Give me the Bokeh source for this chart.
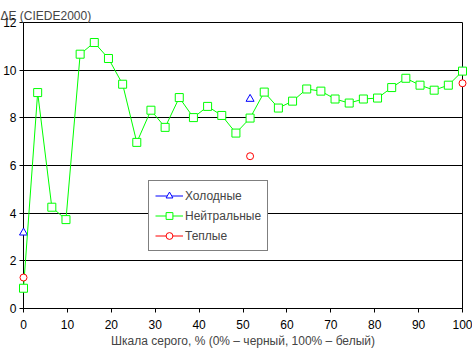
import math
from bokeh.plotting import figure
from bokeh.models import ColumnDataSource, Legend, LegendItem, Range1d, FixedTicker
from bokeh.embed import file_html
from bokeh.resources import INLINE

nan = float("nan")
# gray levels: 32 steps from 0% to 100%
gray_pct = [i * 100 / 31 for i in range(32)]

neutral = [0.85, 9.06, 4.25, 3.73, 10.67, 11.16, 10.49, 9.41, 6.97, 8.32, 7.60,
           8.85, 8.01, 8.48, 8.10, 7.36, 7.99, 9.08, 8.41, 8.70, 9.21, 9.12,
           8.79, 8.62, 8.79, 8.83, 9.27, 9.66, 9.37, 9.16, 9.37, 9.96]
cold = [nan] * 32
cold[0], cold[16], cold[31] = 3.18, 8.79, 9.95
warm = [nan] * 32
warm[0], warm[16], warm[31] = 1.30, 6.39, 9.45

series_names = ["Холодные", "Нейтральные", "Теплые"]
x_ticks = [0, 10, 20, 30, 40, 50, 60, 70, 80, 90, 100]
y_ticks = [0, 2, 4, 6, 8, 10, 12]

FONT = "Liberation Sans"

p = figure(width=472, height=351, output_backend="svg", toolbar_location=None,
           x_range=Range1d(0, 100), y_range=Range1d(0, 12),
           min_border_left=23, min_border_right=10, min_border_top=22,
           min_border_bottom=43)

p.title.text = "ΔE (CIEDE2000)"
p.title.text_font = FONT
p.title.text_font_size = "12px"
p.title.text_font_style = "normal"
p.title.align = "left"
p.title.offset = -23
p.title.standoff = 0

p.outline_line_color = "black"
p.outline_line_width = 1
p.background_fill_color = "white"
p.border_fill_color = "white"

p.xgrid.visible = False
p.ygrid.grid_line_color = "black"
p.ygrid.grid_line_width = 1
p.ygrid.ticker = FixedTicker(ticks=y_ticks)

for ax in (p.xaxis[0], p.yaxis[0]):
    ax.axis_line_color = "black"
    ax.major_tick_line_color = "black"
    ax.minor_tick_line_color = None
    ax.major_tick_in = 0
    ax.major_tick_out = 4
    ax.major_label_text_font = FONT
    ax.major_label_text_font_size = "12px"
    ax.major_label_text_color = "black"
    ax.major_label_standoff = 5

p.yaxis[0].major_label_standoff = 3
p.xaxis[0].major_label_standoff = 7
p.xaxis[0].ticker = FixedTicker(ticks=x_ticks)
p.yaxis[0].ticker = FixedTicker(ticks=y_ticks)
p.xaxis[0].axis_label = "Шкала серого, % (0% – черный, 100% – белый)"
p.xaxis[0].axis_label_text_font = FONT
p.xaxis[0].axis_label_text_font_size = "12px"
p.xaxis[0].axis_label_text_font_style = "normal"
p.xaxis[0].axis_label_standoff = 2

src = ColumnDataSource(dict(x=gray_pct, cold=cold, neutral=neutral, warm=warm))

items = []
specs = [("cold", "#0000FF", "triangle"), ("neutral", "#00FF00", "square"), ("warm", "#FF0000", "circle")]
for name, (col, color, marker) in zip(series_names, specs):
    ln = p.line("x", col, source=src, line_color=color, line_width=1, level="overlay")
    sc = p.scatter("x", col, source=src, marker=marker, size=8 if marker != "circle" else 7,
                   line_color=color, fill_color="white", line_width=1, level="overlay")
    items.append(LegendItem(label=name, renderers=[ln, sc]))

legend = Legend(items=items, location=(125, 57), border_line_color="black",
                border_line_width=1, background_fill_color="white", background_fill_alpha=1,
                label_text_font=FONT, label_text_font_size="12px", glyph_width=28,
                glyph_height=17, label_height=17, spacing=3, padding=6,
                label_standoff=2, margin=0)
p.add_layout(legend, "center")

open("out.html", "w").write(file_html(p, INLINE))
